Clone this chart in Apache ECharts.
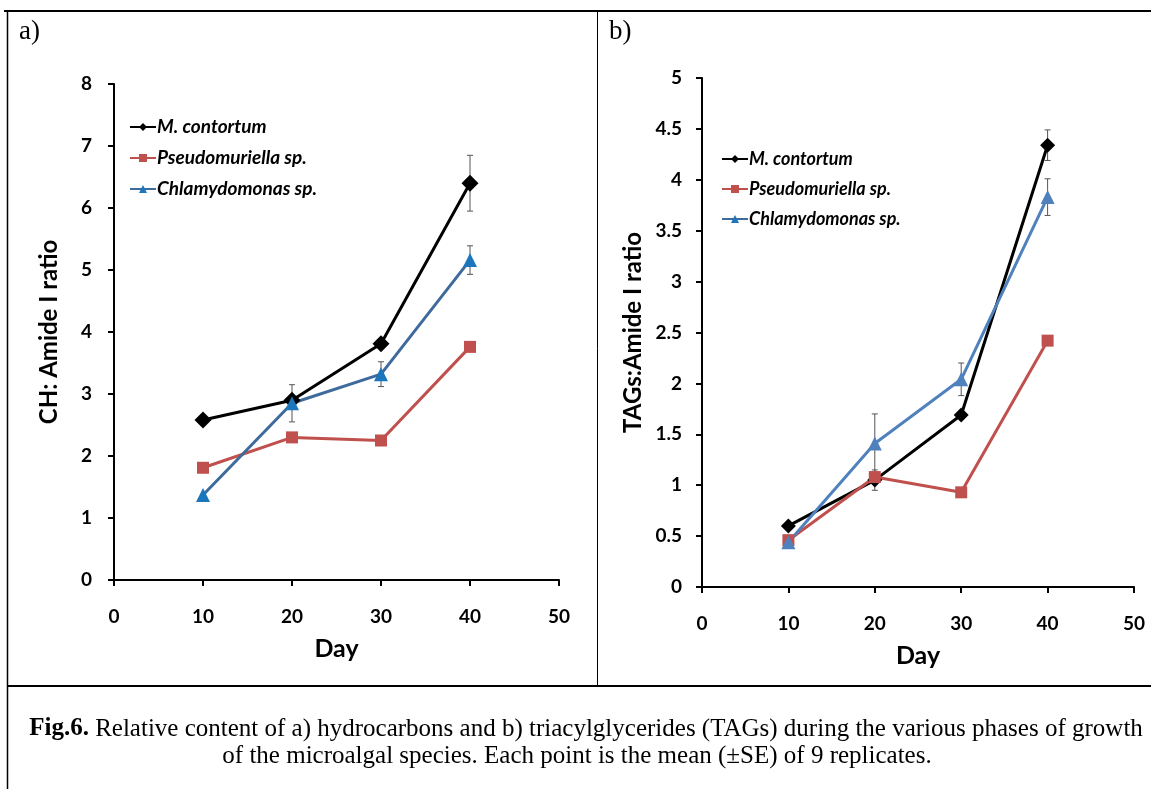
<!DOCTYPE html>
<html>
<head>
<meta charset="utf-8">
<style>
html,body{margin:0;padding:0;background:#fff;}
#chart{width:1151px;height:789px;}
</style>
<script src="https://cdn.jsdelivr.net/npm/echarts@6/dist/echarts.min.js"></script>
</head>
<body>
<div id="chart"></div>
<script>
// ---- Data ----
const days = [10, 20, 30, 40];
const seriesNames = ['M. contortum', 'Pseudomuriella sp.', 'Chlamydomonas sp.'];

// Panel a: CH : Amide I ratio
const chMContortum = [2.58, 2.90, 3.81, 6.40];
const chPseudo     = [1.81, 2.30, 2.25, 3.76];
const chChlamy     = [1.37, 2.85, 3.32, 5.16];
const chMContortumSE = [0, 0, 0, 0.45];
const chPseudoSE     = [0, 0, 0, 0];
const chChlamySE     = [0, 0.30, 0.20, 0.23];

// Panel b: TAGs : Amide I ratio
const tagMContortum = [0.60, 1.05, 1.69, 4.34];
const tagPseudo     = [0.46, 1.08, 0.93, 2.42];
const tagChlamy     = [0.44, 1.41, 2.04, 3.83];
const tagMContortumSE = [0, 0.10, 0, 0.15];
const tagPseudoSE     = [0, 0, 0, 0];
const tagChlamySE     = [0, 0.29, 0.16, 0.18];

const captionLine1Bold = 'Fig.6.';
const captionLine1 = ' Relative content of a) hydrocarbons and b) triacylglycerides (TAGs) during the various phases of growth';
const captionLine2 = 'of the microalgal species. Each point is the mean (\u00b1SE) of 9 replicates.';

// ---- Helpers ----
const FONT = 'Lato';
function pts(vals) { return days.map((d, i) => [d, vals[i]]); }
function errData(vals, se) {
  const out = [];
  days.forEach((d, i) => { if (se[i] > 0) out.push([d, vals[i] - se[i], vals[i] + se[i]]); });
  return out;
}
function errSeries(idx, vals, se, color) {
  return {
    type: 'custom', xAxisIndex: idx, yAxisIndex: idx, z: 1, silent: true,
    data: errData(vals, se),
    renderItem: function (params, api) {
      const lo = api.coord([api.value(0), api.value(1)]);
      const hi = api.coord([api.value(0), api.value(2)]);
      const w = 3;
      const st = { stroke: color, lineWidth: 1 };
      return { type: 'group', children: [
        { type: 'line', shape: { x1: lo[0], y1: lo[1], x2: hi[0], y2: hi[1] }, style: st },
        { type: 'line', shape: { x1: lo[0] - w, y1: lo[1], x2: lo[0] + w, y2: lo[1] }, style: st },
        { type: 'line', shape: { x1: hi[0] - w, y1: hi[1], x2: hi[0] + w, y2: hi[1] }, style: st }
      ]};
    }
  };
}
function lineSeries(idx, name, vals, lineColor, markColor, symbol, size) {
  return {
    type: 'line', name: name, xAxisIndex: idx, yAxisIndex: idx, z: 3,
    data: pts(vals), symbol: symbol, symbolSize: size,
    lineStyle: { color: lineColor, width: 3 },
    itemStyle: { color: markColor, borderWidth: 0 },
    emphasis: { disabled: true }, animation: false
  };
}
function xAxisCfg(idx) {
  return {
    gridIndex: idx, type: 'value', min: 0, max: 50, interval: 10,
    name: 'Day', nameLocation: 'middle', nameGap: 56,
    nameTextStyle: { fontFamily: FONT, fontWeight: 'bold', fontSize: 25, color: '#000' },
    axisLine: { lineStyle: { color: '#000', width: 2 } },
    axisTick: { show: true, inside: false, length: 6, lineStyle: { color: '#000', width: 2 } },
    axisLabel: { fontFamily: FONT, fontWeight: 'bold', fontSize: 19, color: '#000', margin: 27 },
    splitLine: { show: false }
  };
}
function yAxisCfg(idx, max, interval, name, gap, margin) {
  return {
    gridIndex: idx, type: 'value', min: 0, max: max, interval: interval,
    name: name, nameLocation: 'middle', nameGap: gap,
    nameTextStyle: { fontFamily: FONT, fontWeight: 'bold', fontSize: 24, color: '#000' },
    axisLine: { show: true, lineStyle: { color: '#000', width: 2 } },
    axisTick: { show: true, inside: false, length: 6, lineStyle: { color: '#000', width: 2 } },
    axisLabel: { fontFamily: FONT, fontWeight: 'bold', fontSize: 19, color: '#000', margin: margin },
    splitLine: { show: false }
  };
}
function legendCfg(left, top, fontSize, gap) {
  return {
    data: seriesNames, orient: 'vertical', left: left, top: top,
    itemWidth: 26, itemHeight: 10, itemGap: gap, selectedMode: false,
    textStyle: { fontFamily: FONT, fontStyle: 'italic', fontWeight: 'bold', fontSize: fontSize, lineHeight: 20, color: '#000', padding: [0,0,0,-4] },
    padding: 0
  };
}

const chart = echarts.init(document.getElementById('chart'), null, { renderer: 'canvas' });
const blackC = '#000000', redC = '#C0504D';
const option = {
  animation: false,
  backgroundColor: '#ffffff',
  grid: [
    { left: 114, top: 84, width: 445, height: 496 },
    { left: 702, top: 78, width: 432, height: 509 }
  ],
  xAxis: [xAxisCfg(0), xAxisCfg(1)],
  yAxis: [yAxisCfg(0, 8, 1, 'CH: Amide I ratio', 53, 22), yAxisCfg(1, 5, 0.5, 'TAGs:Amide I ratio', 57, 20)],
  legend: [legendCfg(129, 117, 19, 11), legendCfg(721, 149, 18, 10)],
  series: [
    errSeries(0, chMContortum, chMContortumSE, '#555'),
    errSeries(0, chChlamy, chChlamySE, '#555'),
    lineSeries(0, seriesNames[0], chMContortum, blackC, blackC, 'diamond', 17),
    lineSeries(0, seriesNames[1], chPseudo, redC, redC, 'rect', 12),
    lineSeries(0, seriesNames[2], chChlamy, '#3F6A9C', '#1B76BC', 'triangle', 14),
    errSeries(1, tagMContortum, tagMContortumSE, '#555'),
    errSeries(1, tagChlamy, tagChlamySE, '#555'),
    lineSeries(1, seriesNames[0], tagMContortum, blackC, blackC, 'diamond', 15),
    lineSeries(1, seriesNames[1], tagPseudo, redC, redC, 'rect', 12),
    lineSeries(1, seriesNames[2], tagChlamy, '#4F81BD', '#4F81BD', 'triangle', 14)
  ],
  graphic: [
    { type: 'line', shape: { x1: 4, y1: 11, x2: 1151, y2: 11 }, style: { stroke: '#000', lineWidth: 2 } },
    { type: 'line', shape: { x1: 7.5, y1: 11, x2: 7.5, y2: 789 }, style: { stroke: '#000', lineWidth: 1.5 } },
    { type: 'line', shape: { x1: 597.5, y1: 11, x2: 597.5, y2: 686 }, style: { stroke: '#000', lineWidth: 1 } },
    { type: 'line', shape: { x1: 7, y1: 686, x2: 1151, y2: 686 }, style: { stroke: '#000', lineWidth: 2 } },
    { type: 'text', left: 19, top: 18, style: { text: 'a)', font: '27px "Liberation Serif"', fill: '#000' } },
    { type: 'text', left: 609, top: 18, style: { text: 'b)', font: '27px "Liberation Serif"', fill: '#000' } },
    { type: 'text', x: 586, y: 729, style: {
        text: '{b|' + captionLine1Bold + '}{n|' + captionLine1 + '}',
        align: 'center', verticalAlign: 'middle',
        rich: {
          b: { fontFamily: 'Liberation Serif', fontWeight: 'bold', fontSize: 25, fill: '#000' },
          n: { fontFamily: 'Liberation Serif', fontSize: 25, fill: '#000' }
        } } },
    { type: 'text', x: 577, y: 756, style: {
        text: captionLine2, align: 'center', verticalAlign: 'middle',
        font: '25px "Liberation Serif"', fill: '#000' } }
  ]
};
chart.setOption(option);
</script>
</body>
</html>
